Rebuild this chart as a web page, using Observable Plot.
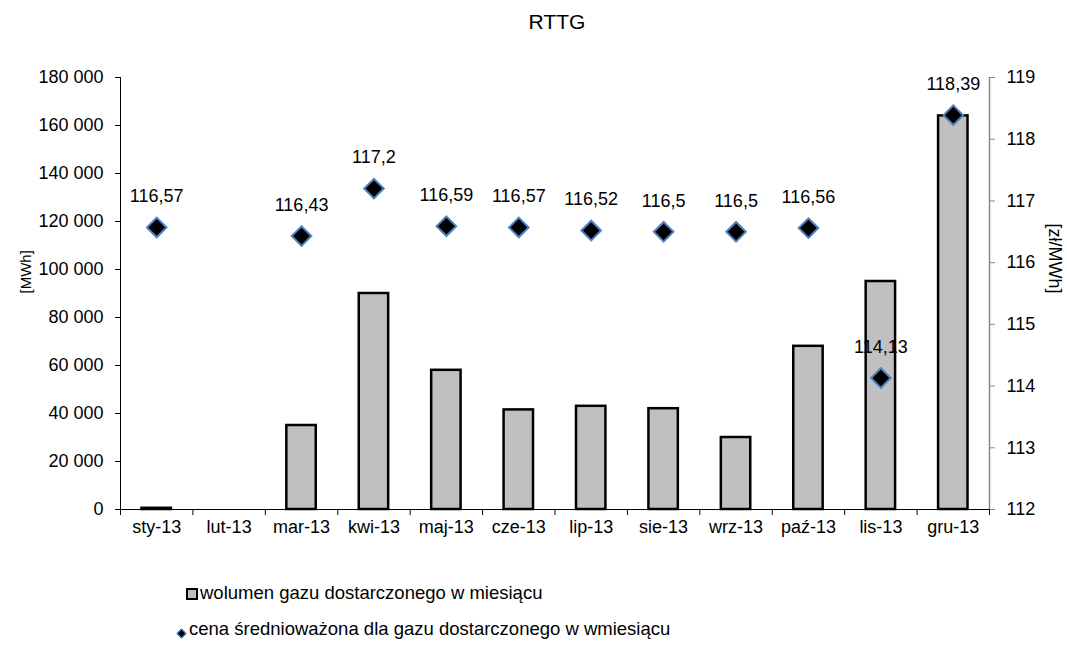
<!DOCTYPE html>
<html>
<head>
<meta charset="utf-8">
<script src="https://cdn.jsdelivr.net/npm/d3@7"></script>
<script src="https://cdn.jsdelivr.net/npm/@observablehq/plot@0.6"></script>
<style>
  body { margin: 0; background: #fff; font-family: "Liberation Sans", Arial, sans-serif; color: #000; }
  #wrap { position: relative; width: 1067px; height: 648px; overflow: hidden; }
  #chart { position: absolute; left: 0; top: 0; }
  #title { position: absolute; left: 557px; top: 12px; transform: translateX(-50%); font-size: 21px; line-height: 20px; white-space: nowrap; }
  .leg { position: absolute; font-size: 18.5px; line-height: 18px; white-space: nowrap; }
  .sw-bar { position: absolute; width: 8px; height: 8px; background: #c0c0c0; border: 2px solid #000; }
  .sw-dia { position: absolute; width: 5px; height: 5px; background: #000; border: 1.5px solid #4f81bd; transform: rotate(45deg); }
</style>
</head>
<body>
<div id="wrap">
  <div id="chart"></div>
  <div id="title"></div>
  <div class="sw-bar" style="left:186px; top:588px;"></div>
  <div class="leg" id="leg1" style="left:200px; top:584px;"></div>
  <div class="sw-dia" style="left:178px; top:630px;"></div>
  <div class="leg" id="leg2" style="left:189px; top:620px;"></div>
</div>
<script>
const title = "RTTG";
const months = ["sty-13","lut-13","mar-13","kwi-13","maj-13","cze-13","lip-13","sie-13","wrz-13","paź-13","lis-13","gru-13"];
const volume = [500, null, 35000, 90000, 58000, 41500, 43000, 42000, 30000, 68000, 95000, 164000];
const price = [116.57, null, 116.43, 117.2, 116.59, 116.57, 116.52, 116.5, 116.5, 116.56, 114.13, 118.39];
const volTicks = [0, 20000, 40000, 60000, 80000, 100000, 120000, 140000, 160000, 180000];
const priceTicks = [112, 113, 114, 115, 116, 117, 118, 119];
const volLabel = "[MWh]";
const priceLabel = "[zł/MWh]";
const seriesNames = ["wolumen gazu dostarczonego w miesiącu", "cena średnioważona dla gazu dostarczonego w wmiesiącu"];

document.getElementById("title").textContent = title;
document.getElementById("leg1").textContent = seriesNames[0];
document.getElementById("leg2").textContent = seriesNames[1];

const volDomain = [0, 180000];
const priceDomain = [112, 119];
const toY = p => (p - priceDomain[0]) / (priceDomain[1] - priceDomain[0]) * (volDomain[1] - volDomain[0]) + volDomain[0];
const fromY = v => (v - volDomain[0]) / (volDomain[1] - volDomain[0]) * (priceDomain[1] - priceDomain[0]) + priceDomain[0];

const pl = d3.formatLocale({decimal: ",", thousands: "\u00a0", grouping: [3], currency: ["", ""]});
const fmtVol = pl.format(",d");
const fmtPrice = p => String(p).replace(".", ",");

const volData = months.map((m, i) => ({i, m, v: volume[i]})).filter(d => d.v != null);
const priceData = months.map((m, i) => ({i, m, p: price[i]})).filter(d => d.p != null);

const chart = Plot.plot({
  width: 1067,
  height: 648,
  marginTop: 77,
  marginBottom: 139,
  marginLeft: 120,
  marginRight: 78,
  style: {fontFamily: "Liberation Sans, Arial, sans-serif", fontSize: "18px", color: "#000", background: "#fff"},
  x: {type: "linear", domain: [0, months.length], axis: null},
  y: {type: "linear", domain: volDomain, axis: null},
  marks: [
    Plot.rect(volData, {
      x1: d => d.i, x2: d => d.i + 1, y1: 0, y2: "v",
      insetLeft: 21.5, insetRight: 21.5,
      fill: "#c0c0c0", stroke: "#000", strokeWidth: 2.5
    }),
    Plot.ruleY([0], {stroke: "#000", strokeWidth: 1}),
    Plot.ruleX([0], {stroke: "#000", strokeWidth: 1}),
    Plot.ruleX([months.length], {stroke: "#888", strokeWidth: 1.5}),
    Plot.axisY(volTicks, {anchor: "left", tickSize: 5, tickPadding: 12, fontSize: 18, tickFormat: fmtVol, label: null}),
    Plot.axisY(priceTicks.map(toY), {anchor: "right", tickSize: 5, tickPadding: 12, fontSize: 18, stroke: "#888", tickFormat: d => String(Math.round(fromY(d))), label: null}),
    Plot.axisX(d3.range(months.length + 1), {anchor: "bottom", tickSize: 6, tickFormat: () => "", label: null}),
    Plot.axisX(d3.range(months.length).map(i => i + 0.5), {anchor: "bottom", tickSize: 0, tickPadding: 11, fontSize: 18, tickFormat: d => months[Math.floor(d)], label: null}),
    Plot.text([volLabel], {frameAnchor: "left", dx: -94, rotate: -90, fontSize: 15}),
    Plot.text([priceLabel], {frameAnchor: "right", dx: 65, rotate: 90, fontSize: 18}),
    Plot.dot(priceData, {
      x: d => d.i + 0.5, y: d => toY(d.p),
      symbol: "square", rotate: 45, r: 7.8,
      fill: "#000", stroke: "#4f81bd", strokeWidth: 2
    }),
    Plot.text(priceData, {
      x: d => d.i + 0.5, y: d => toY(d.p),
      text: d => fmtPrice(d.p), dy: -31, fontSize: 18, fill: "#000"
    })
  ]
});
document.getElementById("chart").appendChild(chart);
</script>
</body>
</html>
